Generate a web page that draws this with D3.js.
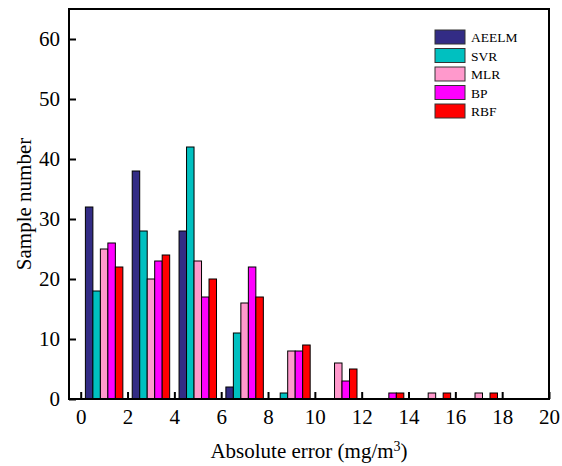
<!DOCTYPE html>
<html>
<head>
<meta charset="utf-8">
<script src="https://cdn.jsdelivr.net/npm/d3@7"></script>
<style>
  body { margin: 0; background: #fff; }
  text { font-family: "Liberation Serif", "Times New Roman", serif; }
</style>
</head>
<body>
<div id="chart"></div>
<script>
// bin centres (absolute error, mg/m3)
var binCenters = [1, 3, 5, 7, 9, 11, 13, 15, 17, 19];
var seriesNames = ["AEELM", "SVR", "MLR", "BP", "RBF"];
var seriesColors = ["#332c85", "#00c0c0", "#ff99cc", "#ff00ff", "#ff0000"];

var aeelm = [32, 38, 28, 2, 0, 0, 0, 0, 0, 0];
var svr   = [18, 28, 42, 11, 1, 0, 0, 0, 0, 0];
var mlr   = [25, 20, 23, 16, 8, 6, 0, 1, 1, 0];
var bp    = [26, 23, 17, 22, 8, 3, 1, 0, 0, 0];
var rbf   = [22, 24, 20, 17, 9, 5, 1, 1, 1, 0];
var seriesValues = [aeelm, svr, mlr, bp, rbf];

var xTicks = [0, 2, 4, 6, 8, 10, 12, 14, 16, 18, 20];
var yTicks = [0, 10, 20, 30, 40, 50, 60];

var width = 562, height = 466;
var plotLeft = 69, plotRight = 549, plotTop = 9, plotBottom = 399;

var svg = d3.select("#chart").append("svg")
    .attr("width", width).attr("height", height);

var x = d3.scaleLinear().domain([-0.5, 20]).range([plotLeft, plotRight]);
var y = d3.scaleLinear().domain([0, 65]).range([plotBottom, plotTop]);

var barW = 0.32; // in data units
var groupW = barW * seriesNames.length;

// bars
seriesValues.forEach(function(vals, s) {
    svg.append("g").selectAll("rect")
        .data(vals.map(function(v, i) { return {v: v, c: binCenters[i]}; })
            .filter(function(d) { return d.v > 0; }))
        .enter().append("rect")
        .attr("x", function(d) { return x(d.c - groupW / 2 + s * barW); })
        .attr("width", x(barW) - x(0))
        .attr("y", function(d) { return y(d.v); })
        .attr("height", function(d) { return y(0) - y(d.v); })
        .style("fill", seriesColors[s])
        .style("stroke", "#000")
        .style("stroke-width", 1);
});

// axes, ticks pointing inward
var xAxis = svg.append("g")
    .attr("transform", "translate(0," + plotBottom + ")")
    .call(d3.axisBottom(x).tickValues(xTicks).tickSizeInner(-7).tickSizeOuter(0).tickPadding(10));
var yAxis = svg.append("g")
    .attr("transform", "translate(" + plotLeft + ",0)")
    .call(d3.axisLeft(y).tickValues(yTicks).tickSizeInner(-7).tickSizeOuter(0).tickPadding(9));

[xAxis, yAxis].forEach(function(a) {
    a.select(".domain").remove();
    a.selectAll("line").style("stroke", "#000").style("stroke-width", 2);
    a.selectAll("text").style("font-size", "21px").style("fill", "#000");
});

// frame
svg.append("rect")
    .attr("x", plotLeft).attr("y", plotTop)
    .attr("width", plotRight - plotLeft).attr("height", plotBottom - plotTop)
    .style("fill", "none").style("stroke", "#000").style("stroke-width", 2);

// axis titles
svg.append("text")
    .attr("transform", "translate(31," + ((plotTop + plotBottom) / 2) + ") rotate(-90)")
    .attr("text-anchor", "middle")
    .style("font-size", "21px")
    .text("Sample number");

var xt = svg.append("text")
    .attr("x", (plotLeft + plotRight) / 2)
    .attr("y", 458)
    .attr("text-anchor", "middle")
    .style("font-size", "21px")
    .text("Absolute error (mg/m");
xt.append("tspan").attr("baseline-shift", "super").style("font-size", "14px").text("3");
xt.append("tspan").text(")");

// legend
var legend = svg.append("g").attr("transform", "translate(435,30)");
seriesNames.forEach(function(name, i) {
    var row = legend.append("g").attr("transform", "translate(0," + (i * 18.5) + ")");
    row.append("rect")
        .attr("width", 30).attr("height", 14)
        .style("fill", seriesColors[i])
        .style("stroke", "#333").style("stroke-width", 1);
    row.append("text")
        .attr("x", 36).attr("y", 12)
        .style("font-size", "13.5px")
        .text(name);
});
</script>
</body>
</html>
